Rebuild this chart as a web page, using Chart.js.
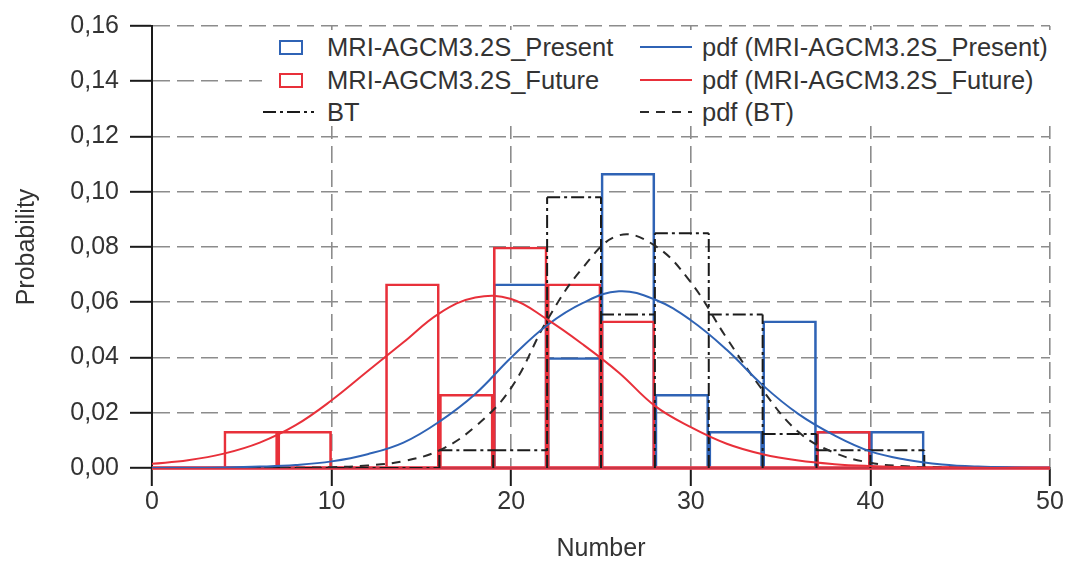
<!DOCTYPE html>
<html><head><meta charset="utf-8">
<script src="https://cdn.jsdelivr.net/npm/chart.js@4.4.1/dist/chart.umd.min.js"></script>
<style>
html,body{margin:0;padding:0;background:#fff;}
#wrap{position:relative;width:1067px;height:565px;overflow:hidden;}
#c{position:absolute;left:0;top:0;}
#legend{position:absolute;left:262px;top:30px;width:794px;height:96px;background:#fff;font-family:"Liberation Sans",Arial,sans-serif;font-size:25.5px;color:#333;}
#legend svg{position:absolute;left:0;top:0;}
.txt{position:absolute;white-space:nowrap;line-height:26px;}
</style></head><body>
<div id="wrap"><canvas id="c" width="1067" height="565"></canvas><div id="legend"></div></div>
<script>
// ---- data ----
const xLimits = [0, 50];
const yLimits = [0, 0.16];
const xTickLabels = ['0', '10', '20', '30', '40', '50'];
const yTickLabels = ['0,00', '0,02', '0,04', '0,06', '0,08', '0,10', '0,12', '0,14', '0,16'];
const xTitle = 'Number';
const yTitle = 'Probability';
const seriesNames = ['MRI-AGCM3.2S_Present', 'MRI-AGCM3.2S_Future', 'BT',
  'pdf (MRI-AGCM3.2S_Present)', 'pdf (MRI-AGCM3.2S_Future)', 'pdf (BT)'];

const binWidth = 3;
const binCenters = [2.5, 5.5, 8.5, 11.5, 14.5, 17.5, 20.5, 23.5, 26.5, 29.5, 32.5, 35.5, 38.5, 41.5, 44.5, 47.5];
const presentHist = [0, 0, 0, 0, 0, 0, 0.0667, 0.0400, 0.1067, 0.0267, 0.0133, 0.0533, 0.0133, 0.0133, 0, 0];
const futureHist  = [0, 0.0133, 0.0133, 0, 0.0667, 0.0267, 0.0800, 0.0667, 0.0533, 0, 0, 0, 0.0133, 0, 0, 0];
const btHist      = [0, 0, 0, 0, 0, 0.0064, 0.0064, 0.0980, 0.0556, 0.0850, 0.0556, 0.0123, 0.0064, 0.0064, 0, 0];

const pdfX = [0, 2, 4, 6, 8, 10, 12, 14, 16, 18, 20, 22, 24, 26, 28, 30, 32, 34, 36, 38, 40, 42, 44, 46, 48, 50];
const pdfPresent = [0.0000, 0.0001, 0.0002, 0.0005, 0.0011, 0.0024, 0.0050, 0.0092, 0.0168, 0.0268, 0.0400, 0.0517, 0.0598,
  0.0640, 0.0610, 0.0535, 0.0428, 0.0300, 0.0195, 0.0118, 0.0060, 0.0030, 0.0013, 0.0005, 0.0002, 0.0001];
const pdfFuture = [0.0015, 0.0028, 0.0052, 0.0092, 0.0155, 0.0245, 0.0350, 0.0455, 0.0560, 0.0617, 0.0612, 0.0538, 0.0447,
  0.0345, 0.0225, 0.0148, 0.0088, 0.0050, 0.0027, 0.0014, 0.0007, 0.0003, 0.0002, 0.0001, 0.0000, 0.0000];
const pdfBT = [0, 0, 0, 0, 0.0001, 0.0003, 0.0009, 0.0025, 0.0064, 0.0150, 0.0290, 0.0535, 0.0726,
  0.0842, 0.0805, 0.0672, 0.0470, 0.0282, 0.0130, 0.0055, 0.0019, 0.0006, 0.0002, 0.0001, 0, 0];

// ---- styles ----
const BLUE = '#2f63b5';
const RED = '#e8303a';
const BLACK = '#1a1a1a';
const GRID = '#8c8c8c';
const TEXT = '#333333';
const FONT = '"Liberation Sans", Arial, sans-serif';
const DASHDOT = [13, 4, 3, 4];
const DASH = [9, 7];

// ---- helpers ----
const toXY = (xs, ys) => xs.map((x, i) => ({x: x, y: ys[i]}));
// histogram outline: each edge drawn once (0 -> taller neighbour), then each bin top
function stepOutline(centers, vals, w) {
  const pts = [];
  const n = centers.length;
  for (let i = 0; i <= n; i++) {
    const e = i < n ? centers[i] - w / 2 : centers[n - 1] + w / 2;
    const h = Math.max(i > 0 ? vals[i - 1] : 0, i < n ? vals[i] : 0);
    if (h > 0) pts.push({x: e, y: 0}, {x: e, y: h}, {x: e, y: null});
  }
  centers.forEach((c, i) => {
    pts.push({x: c - w / 2, y: vals[i]}, {x: c + w / 2, y: vals[i]}, {x: c + w / 2, y: null});
  });
  return pts;
}

Chart.defaults.font.family = FONT;
Chart.defaults.font.size = 25;
Chart.defaults.color = TEXT;

const barCommon = {type: 'bar', grouped: false, barPercentage: 1, categoryPercentage: 1, borderWidth: 2,
  backgroundColor: 'rgba(0,0,0,0)', borderSkipped: 'start'};
const lineCommon = {type: 'line', pointRadius: 0, fill: false, tension: 0.4};

new Chart(document.getElementById('c'), {
  type: 'line',
  data: {
    datasets: [
      Object.assign({}, lineCommon, {label: seriesNames[4], data: toXY(pdfX, pdfFuture), borderColor: RED, borderWidth: 2, order: 1}),
      Object.assign({}, lineCommon, {label: seriesNames[3], data: toXY(pdfX, pdfPresent), borderColor: BLUE, borderWidth: 2, order: 2}),
      Object.assign({}, lineCommon, {label: seriesNames[5], data: toXY(pdfX, pdfBT), borderColor: '#2a2a2a', borderWidth: 2, borderDash: DASH, order: 3}),
      {type: 'line', label: seriesNames[2], data: stepOutline(binCenters, btHist, binWidth), borderColor: BLACK, borderWidth: 2,
        borderDash: DASHDOT, pointRadius: 0, tension: 0, spanGaps: false, fill: false, order: 4},
      {type: 'line', label: 'zero', data: [{x: xLimits[0], y: 0}, {x: xLimits[1], y: 0}], borderColor: 'rgba(234,60,78,0.85)',
        borderWidth: 4, pointRadius: 0, fill: false, clip: false, order: 5},
      Object.assign({}, barCommon, {label: seriesNames[1], data: toXY(binCenters, futureHist), borderColor: RED, order: 6}),
      Object.assign({}, barCommon, {label: seriesNames[0], data: toXY(binCenters, presentHist), borderColor: BLUE, order: 7})
    ]
  },
  options: {
    responsive: false,
    animation: false,
    devicePixelRatio: 1,
    layout: {padding: {top: 17, right: 17, left: 0, bottom: 0}},
    plugins: {legend: {display: false}, tooltip: {enabled: false}},
    scales: {
      x: {
        type: 'linear', min: xLimits[0], max: xLimits[1], offset: false,
        ticks: {stepSize: 10, autoSkip: false, maxRotation: 0, padding: 1, color: TEXT,
          callback: (v, i) => xTickLabels[i]},
        grid: {color: GRID, lineWidth: 1.6, offset: false, tickLength: 18, tickColor: BLACK, tickWidth: 2, tickBorderDash: []},
        border: {color: BLACK, width: 2, dash: [17, 7]},
        title: {display: true, text: xTitle, color: TEXT, padding: {top: 0, bottom: 1}},
        afterFit: s => { s.height = 97; }
      },
      y: {
        type: 'linear', min: yLimits[0], max: yLimits[1],
        ticks: {stepSize: 0.02, padding: 11, color: TEXT, callback: (v, i) => yTickLabels[i]},
        grid: {color: GRID, lineWidth: 1.6, tickLength: 22, tickColor: BLACK, tickWidth: 2, tickBorderDash: []},
        border: {color: BLACK, width: 2, dash: [17, 7]},
        title: {display: true, text: yTitle, color: TEXT, padding: {top: 12, bottom: 0}},
        afterFit: s => { s.width = 152; }
      }
    }
  }
});

// ---- legend (two columns, white box) ----
const lg = document.getElementById('legend');
const rowsY = [17, 50, 82];
const col1Text = 65, col2Text = 440;
let svg = '<svg width="794" height="96" xmlns="http://www.w3.org/2000/svg">';
svg += `<rect x="18" y="${rowsY[0]-6}" width="22" height="13" fill="none" stroke="${BLUE}" stroke-width="2"/>`;
svg += `<rect x="18" y="${rowsY[1]-6}" width="22" height="13" fill="none" stroke="${RED}" stroke-width="2"/>`;
svg += `<line x1="1" y1="${rowsY[2]}" x2="52" y2="${rowsY[2]}" stroke="${BLACK}" stroke-width="2" stroke-dasharray="${DASHDOT.join(' ')}"/>`;
svg += `<line x1="378" y1="${rowsY[0]}" x2="430" y2="${rowsY[0]}" stroke="${BLUE}" stroke-width="2"/>`;
svg += `<line x1="378" y1="${rowsY[1]}" x2="430" y2="${rowsY[1]}" stroke="${RED}" stroke-width="2"/>`;
svg += `<line x1="378" y1="${rowsY[2]}" x2="430" y2="${rowsY[2]}" stroke="#2a2a2a" stroke-width="2" stroke-dasharray="${DASH.join(' ')}"/>`;
svg += '</svg>';
let html = svg;
const place = [[col1Text, 0, 0], [col1Text, 1, 1], [col1Text, 2, 2], [col2Text, 0, 3], [col2Text, 1, 4], [col2Text, 2, 5]];
place.forEach(([x, r, k]) => {
  html += `<span class="txt" style="left:${x}px;top:${rowsY[r] - 13}px">${seriesNames[k]}</span>`;
});
lg.innerHTML = html;
</script>
</body></html>
